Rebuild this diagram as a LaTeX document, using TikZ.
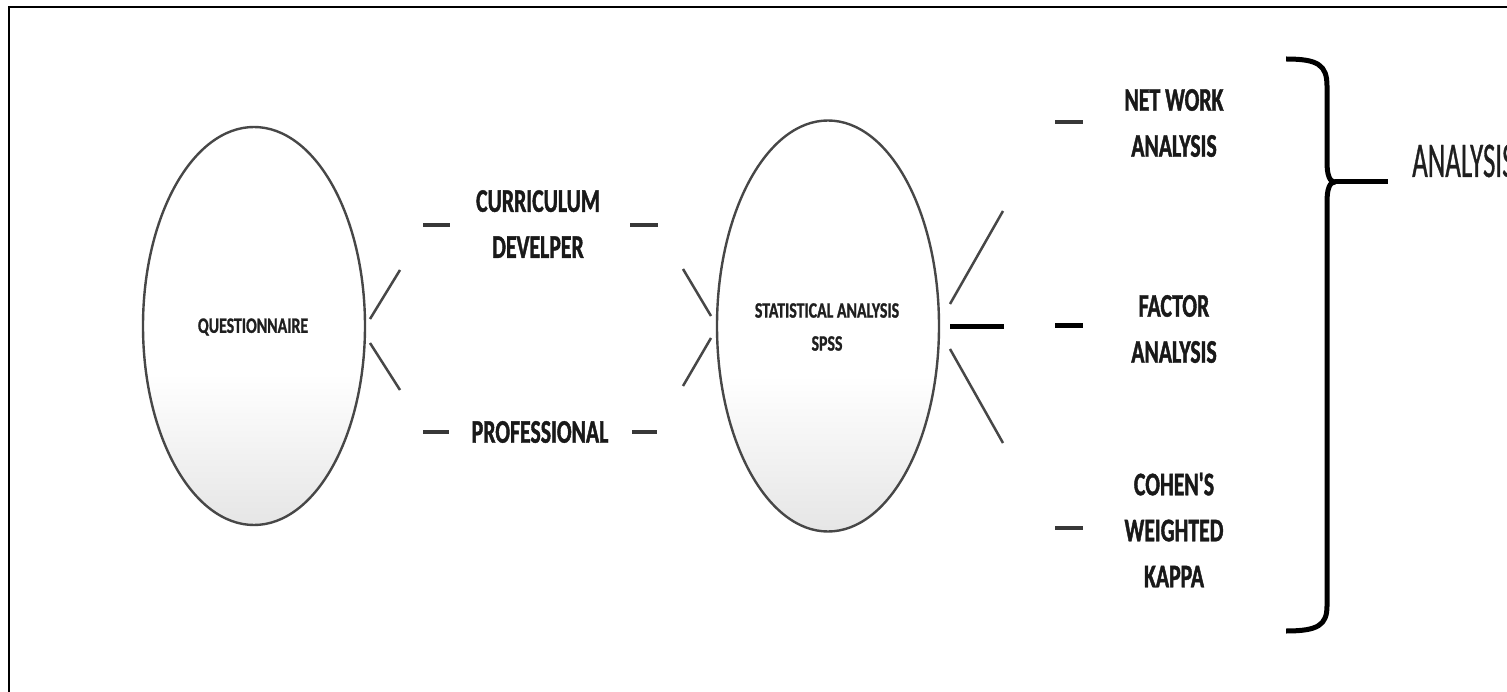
\documentclass[tikz,border=0pt]{standalone}
\usepackage{fontspec}
\usetikzlibrary{shapes.geometric}
\newfontfamily\lblfont[FakeStretch=0.66,FakeBold=1.2]{Carlito Bold}
\newfontfamily\smallfont[FakeStretch=0.72,FakeBold=1]{Carlito Bold}
\newfontfamily\bigfont[FakeStretch=0.54,FakeBold=0.6]{Carlito}
\pgfdeclareverticalshading{ovalshade}{100bp}{color(0bp)=(black!10); color(25bp)=(black!10); color(44bp)=(white); color(100bp)=(white)}
\begin{document}
\begin{tikzpicture}[x=1pt,y=-1pt,
  oval/.style={ellipse, draw=black!72, line width=2.4pt, inner sep=0pt, shading=ovalshade},
  ovaltext/.style={font=\smallfont\fontsize{22}{33}\selectfont, align=center, text=black!88, inner sep=0pt},
  lbl/.style={font=\lblfont\fontsize{33}{46}\selectfont, align=center, inner sep=0pt, text=black!90},
  conn/.style={line width=2.5pt, draw=black!72},
  dashmark/.style={line width=3.2pt, draw=black!78},
  heavy/.style={line width=5pt, draw=black},
]
\useasboundingbox (0,0) rectangle (1507,692);
\clip (0,0) rectangle (1507,692);
\fill[white] (0,0) rectangle (1507,692);
% frame
\coordinate (fb) at (9,700);
\coordinate (fc) at (9,7);
\coordinate (fr) at (1515,7);
\draw[line width=2pt] (fb) -- (fc) -- (fr);

% ellipses
\node[oval, minimum width=222pt, minimum height=398pt] (q) at (254,326) {};
\node[ovaltext] (qt) at (253,327) {QUESTIONNAIRE};
\node[oval, minimum width=222pt, minimum height=411pt] (s) at (828,326) {};
\node[ovaltext] (st) at (827,327) {STATISTICAL ANALYSIS\\SPSS};

% labels
\node[lbl] (curr) at (538,224) {CURRICULUM\\DEVELPER};
\node[lbl] (prof) at (540,432) {PROFESSIONAL};
\node[lbl] (net) at (1174,123) {NET WORK\\ANALYSIS};
\node[lbl] (fac) at (1174,329) {FACTOR\\ANALYSIS};
\node[lbl] (coh) at (1174,530) {COHEN'S\\WEIGHTED\\KAPPA};
\node[font=\bigfont\fontsize{50}{60}\selectfont, anchor=base west, inner sep=0pt, text=black!88] (an) at (1412,177) {ANALYSIS};

% connector strokes
\coordinate (q1a) at (370,319); \coordinate (q1b) at (400,270);
\coordinate (q2a) at (370,343); \coordinate (q2b) at (400,390);
\draw[conn] (q1a) -- (q1b);
\draw[conn] (q2a) -- (q2b);
\coordinate (s1a) at (683,269); \coordinate (s1b) at (711,316);
\coordinate (s2a) at (683,386); \coordinate (s2b) at (711,338);
\draw[conn] (s1a) -- (s1b);
\draw[conn] (s2a) -- (s2b);
\coordinate (r1a) at (950,304); \coordinate (r1b) at (1003,211);
\coordinate (r2a) at (950,327); \coordinate (r2b) at (1004,327);
\coordinate (r3a) at (950,349); \coordinate (r3b) at (1003,443);
\draw[conn] (r1a) -- (r1b);
\draw[heavy] (r2a) -- (r2b);
\draw[conn] (r3a) -- (r3b);

% dashes beside labels
\coordinate (d1a) at (423,225); \coordinate (d1b) at (450,225);
\coordinate (d2a) at (630,225); \coordinate (d2b) at (658,225);
\coordinate (d3a) at (423,432); \coordinate (d3b) at (449,432);
\coordinate (d4a) at (632,432); \coordinate (d4b) at (657,432);
\coordinate (d5a) at (1055,122); \coordinate (d5b) at (1083,122);
\coordinate (d6a) at (1055,326); \coordinate (d6b) at (1083,326);
\coordinate (d7a) at (1055,528); \coordinate (d7b) at (1083,528);
\draw[dashmark] (d1a) -- (d1b);
\draw[dashmark] (d2a) -- (d2b);
\draw[dashmark] (d3a) -- (d3b);
\draw[dashmark] (d4a) -- (d4b);
\draw[dashmark] (d5a) -- (d5b);
\draw[heavy] (d6a) -- (d6b);
\draw[dashmark] (d7a) -- (d7b);

% brace
\coordinate (bt) at (1286,59);
\coordinate (btip) at (1335,182);
\coordinate (bbot) at (1286,631);
\coordinate (bend) at (1388,182);
\draw[heavy, line join=round]
  (bt) .. controls (1318,59) and (1327,65) .. (1327,86)
  -- (1327,162) .. controls (1327,176) and (1330,182) .. (btip)
  .. controls (1330,182) and (1327,188) .. (1327,202)
  -- (1327,606) .. controls (1327,625) and (1318,631) .. (bbot);
\draw[heavy] (btip) -- (bend);
\end{tikzpicture}
\end{document}
